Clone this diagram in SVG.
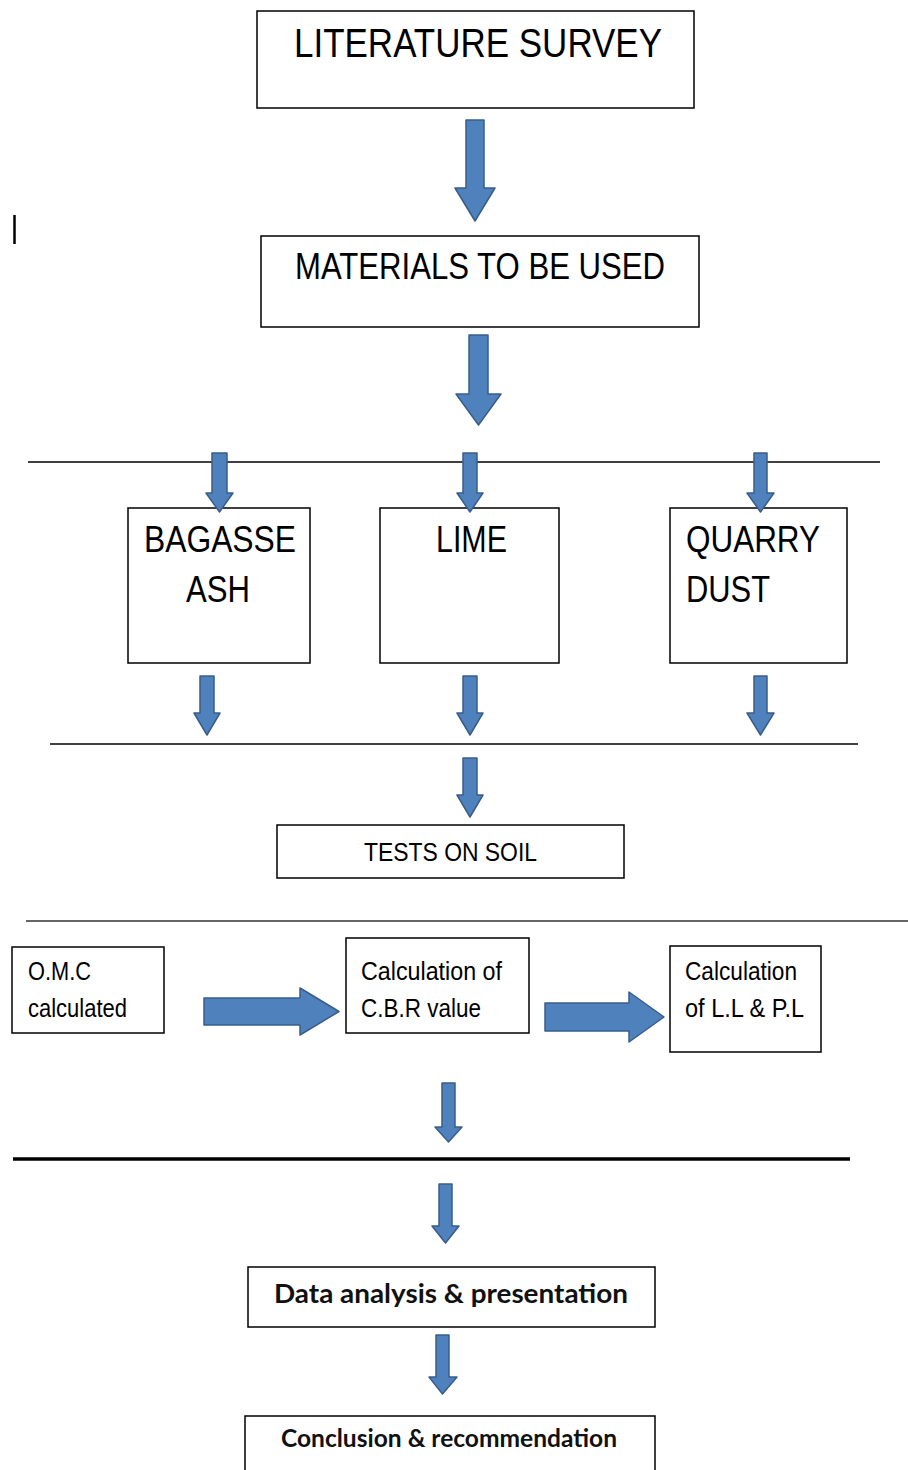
<svg xmlns="http://www.w3.org/2000/svg" width="908" height="1470" viewBox="0 0 908 1470">
<style>
.box{fill:#fff;stroke:#000;stroke-width:1.5}
.t{font-family:"Liberation Sans",Arial,sans-serif;fill:#000}
.b{font-family:Lato,"Open Sans",sans-serif;font-weight:bold;fill:#111}
.arr{fill:#4f81bd;stroke:#385d8a;stroke-width:1.5;stroke-linejoin:round}
.ln{stroke:#000;stroke-width:1.5}
</style>
<rect width="908" height="1470" fill="#fff"/>
<line x1="14.5" y1="215" x2="14.5" y2="244" stroke="#000" stroke-width="2.5"/>
<g id="lines">
<line class="ln" x1="28" y1="462" x2="880" y2="462"/>
<line class="ln" x1="50" y1="744" x2="858" y2="744"/>
<line x1="26" y1="921" x2="908" y2="921" stroke="#666" stroke-width="2"/>
<line x1="13" y1="1159" x2="850" y2="1159" stroke="#000" stroke-width="3.5"/>
</g>
<g id="n1"><rect class="box" x="257" y="11" width="437" height="97"/>
<text class="t" x="294" y="57" font-size="40" textLength="368" lengthAdjust="spacingAndGlyphs">LITERATURE SURVEY</text></g>
<g id="n2"><rect class="box" x="261" y="236" width="438" height="91"/>
<text class="t" x="295" y="279" font-size="36" textLength="370" lengthAdjust="spacingAndGlyphs">MATERIALS TO BE USED</text></g>
<g id="n3"><rect class="box" x="128" y="508" width="182" height="155"/>
<text class="t" x="144" y="552" font-size="36" textLength="152" lengthAdjust="spacingAndGlyphs">BAGASSE</text>
<text class="t" x="186" y="602" font-size="36" textLength="64" lengthAdjust="spacingAndGlyphs">ASH</text></g>
<g id="n4"><rect class="box" x="380" y="508" width="179" height="155"/>
<text class="t" x="436" y="552" font-size="36" textLength="71" lengthAdjust="spacingAndGlyphs">LIME</text></g>
<g id="n5"><rect class="box" x="670" y="508" width="177" height="155"/>
<text class="t" x="686" y="552" font-size="36" textLength="134" lengthAdjust="spacingAndGlyphs">QUARRY</text>
<text class="t" x="686" y="602" font-size="36" textLength="84" lengthAdjust="spacingAndGlyphs">DUST</text></g>
<g id="n6"><rect class="box" x="277" y="825" width="347" height="53"/>
<text class="t" x="364" y="861" font-size="26" textLength="173" lengthAdjust="spacingAndGlyphs">TESTS ON SOIL</text></g>
<g id="n7"><rect class="box" x="12" y="947" width="152" height="86"/>
<text class="t" x="28" y="980" font-size="25" textLength="63" lengthAdjust="spacingAndGlyphs">O.M.C</text>
<text class="t" x="28" y="1017" font-size="25" textLength="99" lengthAdjust="spacingAndGlyphs">calculated</text></g>
<g id="n8"><rect class="box" x="346" y="938" width="183" height="95"/>
<text class="t" x="361" y="980" font-size="25" textLength="141" lengthAdjust="spacingAndGlyphs">Calculation of</text>
<text class="t" x="361" y="1017" font-size="25" textLength="120" lengthAdjust="spacingAndGlyphs">C.B.R value</text></g>
<g id="n9"><rect class="box" x="670" y="946" width="151" height="106"/>
<text class="t" x="685" y="980" font-size="25" textLength="112" lengthAdjust="spacingAndGlyphs">Calculation</text>
<text class="t" x="685" y="1017" font-size="25" textLength="119" lengthAdjust="spacingAndGlyphs">of L.L &amp; P.L</text></g>
<g id="n10"><rect class="box" x="248" y="1267" width="407" height="60"/>
<text class="b" x="274" y="1303" font-size="27" textLength="354" lengthAdjust="spacingAndGlyphs">Data analysis &amp; presentation</text></g>
<g id="n11"><rect class="box" x="245" y="1416" width="410" height="60"/>
<text class="b" x="281" y="1447" font-size="25" textLength="336" lengthAdjust="spacingAndGlyphs">Conclusion &amp; recommendation</text></g>
<g id="connectors">
<path class="arr" d="M466,120 H484 V188 H495 L475,221 L455,188 H466 Z"/>
<path class="arr" d="M469,335 H488 V394 H501 L478.5,425 L456,394 H469 Z"/>
<path class="arr" d="M212,453 H227 V493 H233 L219.5,512 L206,493 H212 Z"/>
<path class="arr" d="M463,453 H477 V493 H483 L470,512 L457,493 H463 Z"/>
<path class="arr" d="M754,453 H767 V493 H774 L760.5,512 L747,493 H754 Z"/>
<path class="arr" d="M200,676 H214 V713 H220 L207,735 L194,713 H200 Z"/>
<path class="arr" d="M463,676 H477 V713 H483 L470,735 L457,713 H463 Z"/>
<path class="arr" d="M754,676 H767 V713 H774 L760.5,735 L747,713 H754 Z"/>
<path class="arr" d="M463,758 H477 V795 H483 L470,817 L457,795 H463 Z"/>
<path class="arr" d="M204,998 H300 V988 L339,1011.5 L300,1035 V1025 H204 Z"/>
<path class="arr" d="M545,1003 H629 V992 L664,1017 L629,1042 V1031 H545 Z"/>
<path class="arr" d="M442,1083 H455 V1127 H462 L448.5,1142 L435,1127 H442 Z"/>
<path class="arr" d="M439,1184 H452 V1226 H459 L445.5,1243 L432,1226 H439 Z"/>
<path class="arr" d="M436,1335 H449 V1377 H457 L442.5,1394 L429,1377 H436 Z"/>
</g>
</svg>
